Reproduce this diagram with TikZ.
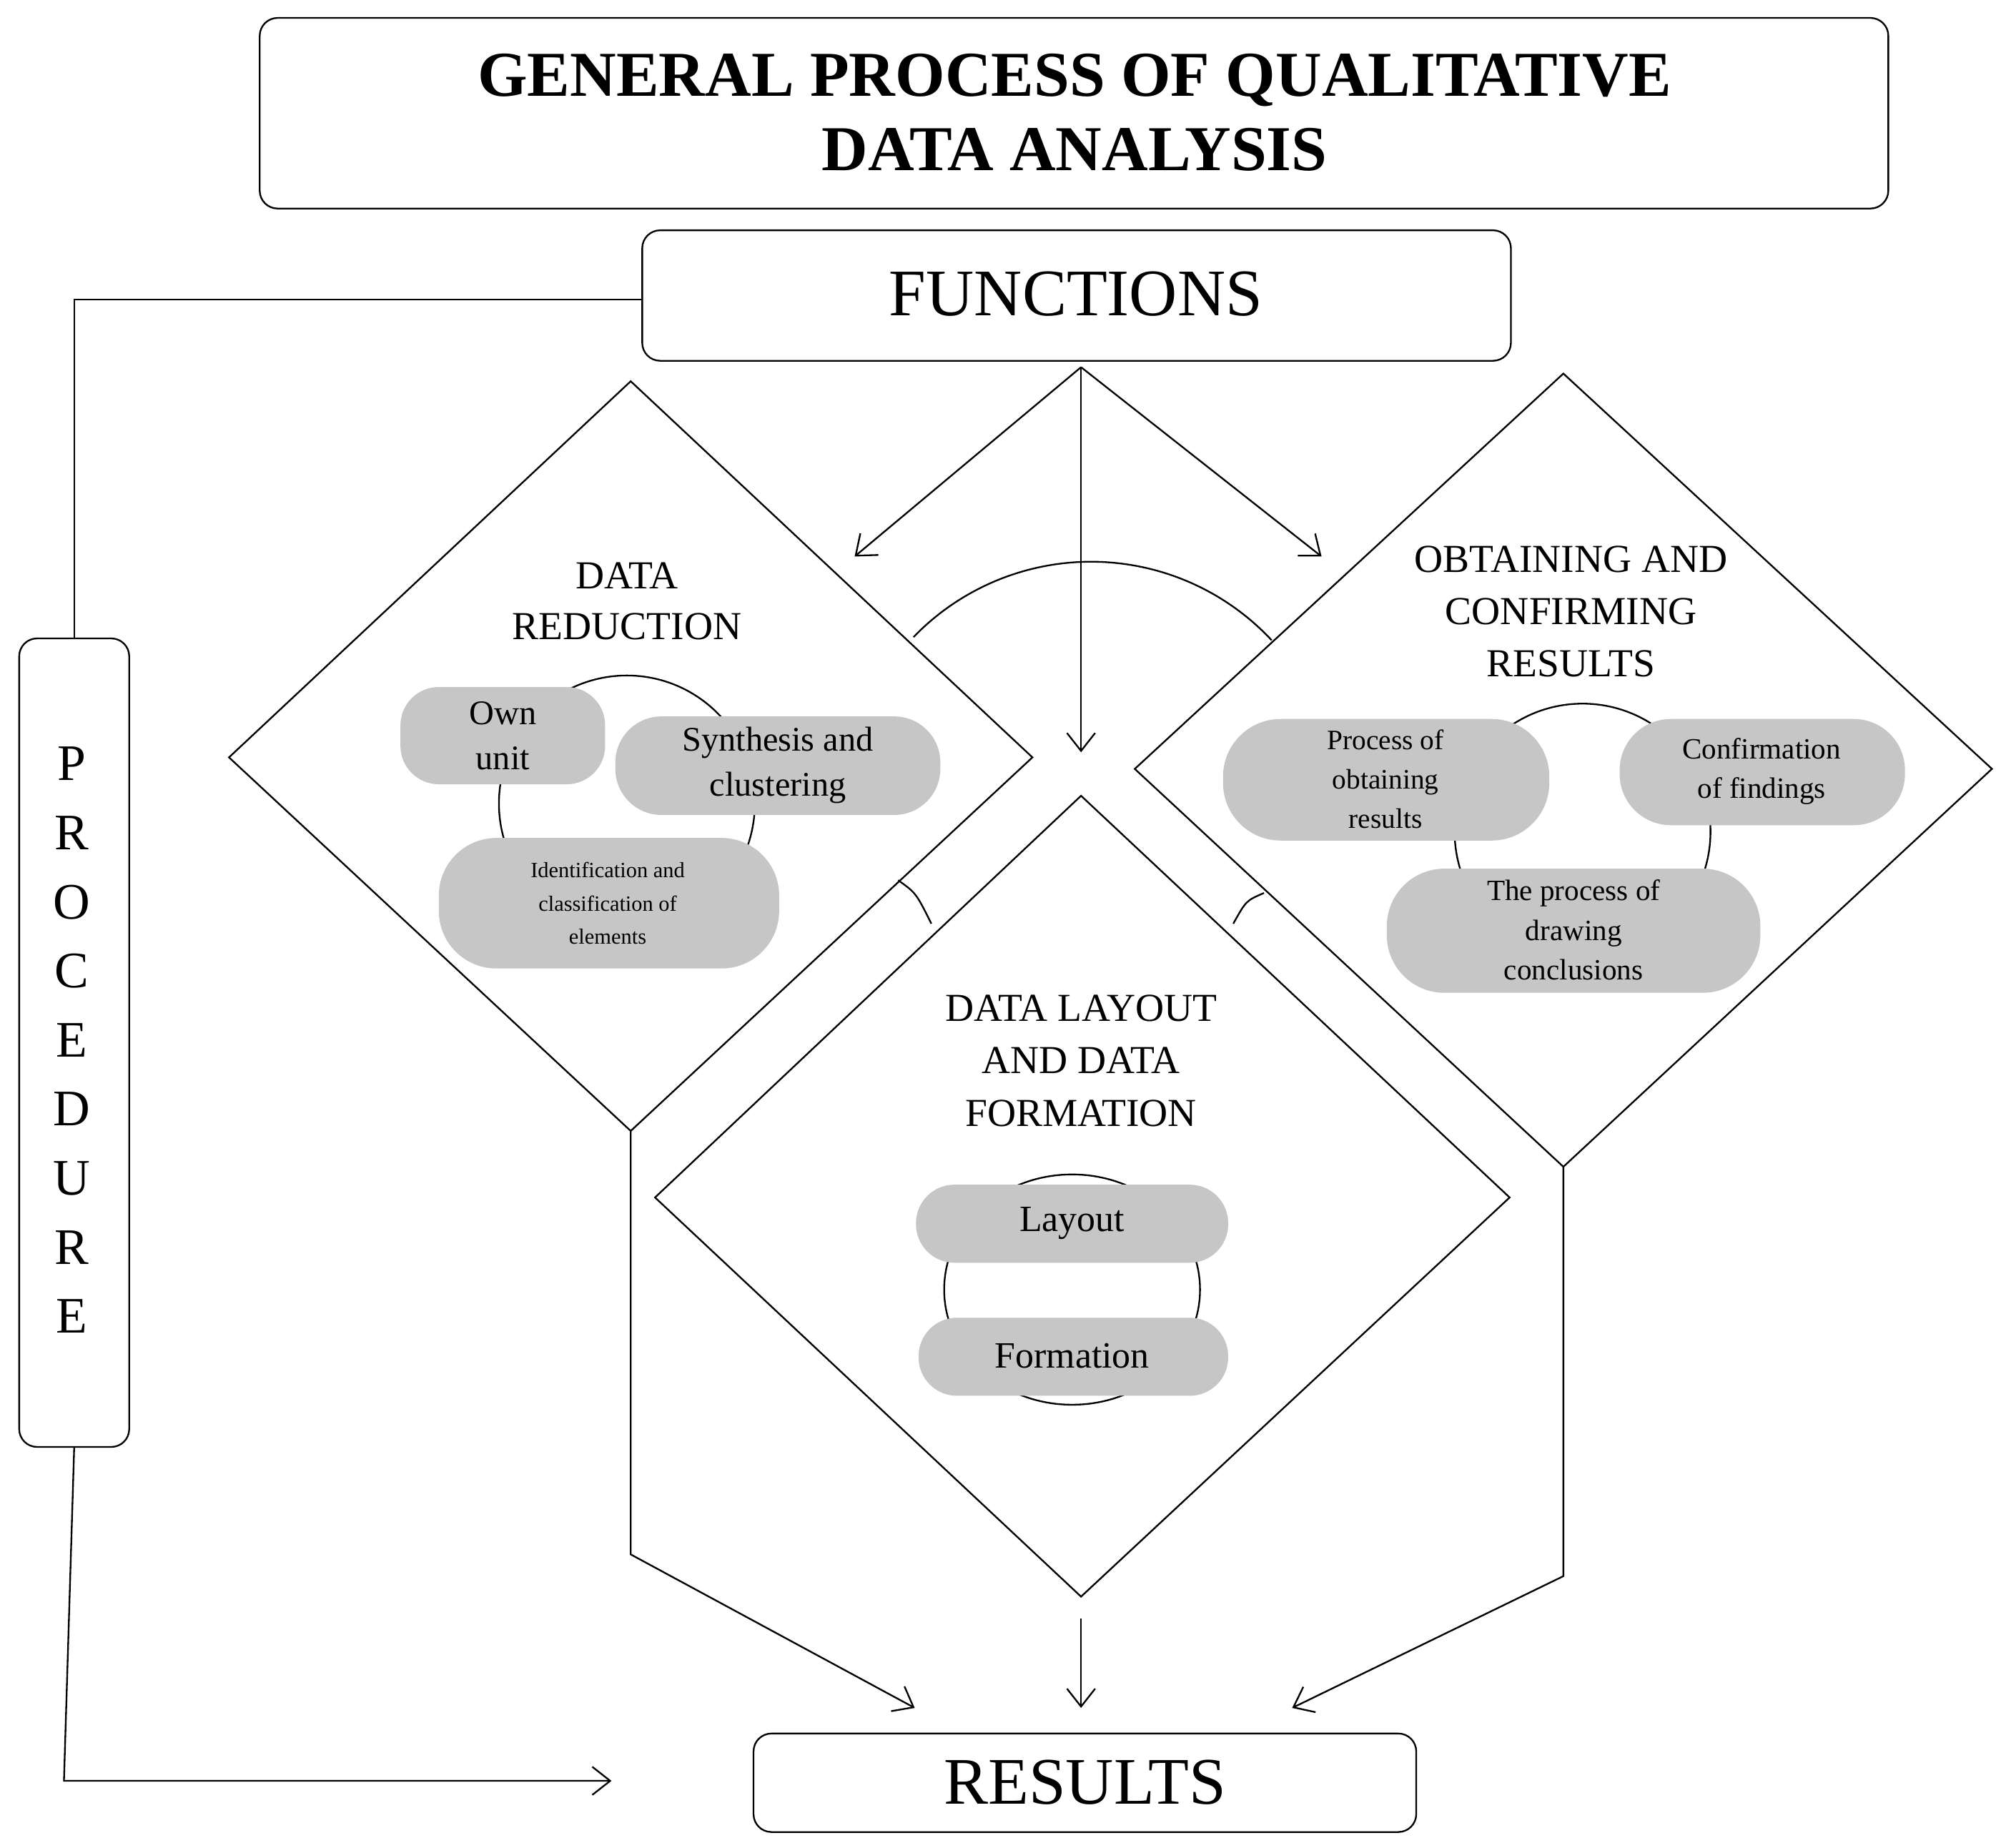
\documentclass[tikz,border=0pt]{standalone}
\usepackage{fontspec}
\setmainfont{Liberation Serif}
\usetikzlibrary{arrows.meta,shapes.geometric}
\begin{document}
\begin{tikzpicture}[x=1pt,y=-1pt,
  box/.style={draw,rounded corners=14pt,line width=1.3pt},
  dia/.style={draw,line width=1.3pt,fill=white},
  pill/.style={fill=gray!45,draw=none},
  con/.style={line width=1.3pt},
  arr/.style={con,-{Straight Barb[length=14pt,width=22pt]}}]
\useasboundingbox (0,0) rectangle (1568,1444);
% title
\draw[box] (203,14) rectangle (1476,163);
\node[font=\fontsize{50}{58}\selectfont\bfseries,align=center] (title) at (840,88) {GENERAL PROCESS OF QUALITATIVE\\DATA ANALYSIS};
\draw[box] (502,180) rectangle (1181,282);
\node[font=\fontsize{52}{58}\selectfont] (func) at (841,230) {FUNCTIONS};
\coordinate (fb) at (845,287);
% procedure
\draw[box] (15,499) rectangle (101,1131);
\foreach \l [count=\i] in {P,R,O,C,E,D,U,R,E}
  \node[font=\fontsize{40}{44}\selectfont] (p\i) at (56,543+54*\i) {\l};
\coordinate (f1) at (502,234);\coordinate (f2) at (58,234);\coordinate (f3) at (58,499);
\draw[con] (f1) -- (f2) -- (f3);
\coordinate (g1) at (58,1131);\coordinate (g2) at (50,1392);\coordinate (g3) at (478,1392);
\draw[arr] (g1) -- (g2) -- (g3);
% diamonds
\draw[dia] (493,298) -- (807,592) -- (493,884) -- (179,592) -- cycle;
\draw[dia] (1222,292) -- (1557,601) -- (1222,912) -- (887,601) -- cycle;
\draw[dia] (845,622) -- (1180,936) -- (845,1248) -- (512,936) -- cycle;
% arrows from functions
\coordinate (a1) at (668,435);\coordinate (a2) at (845,588);\coordinate (a3) at (1033,435);
\draw[arr] (fb) -- (a1); \draw[arr] (fb) -- (a2); \draw[arr] (fb) -- (a3);
\draw[con] (714,498) arc[start angle=136,end angle=43,radius=193pt];
\draw[con] (702,688) .. controls (716,698) .. (728,722);
\draw[con] (964,722) .. controls (974,704) .. (988,698);
% left content
\node[font=\fontsize{31}{40}\selectfont,align=center] (dr) at (490,470) {DATA\\REDUCTION};
\draw[con] (490,628) circle[radius=100];
\draw[pill,rounded corners=30pt] (313,537) rectangle (473,613);
\node[font=\fontsize{27}{35}\selectfont,align=center] (own) at (393,575) {Own\\unit};
\draw[pill,rounded corners=36pt] (481,560) rectangle (735,637);
\node[font=\fontsize{27}{35}\selectfont,align=center] (syn) at (608,598) {Synthesis and\\clustering};
\draw[pill,rounded corners=45pt] (343,655) rectangle (609,757);
\node[font=\fontsize{17}{26}\selectfont,align=center] (idc) at (475,706) {Identification and\\classification of\\elements};
% right content
\node[font=\fontsize{31}{41}\selectfont,align=center] (ocr) at (1228,478) {OBTAINING AND\\CONFIRMING\\RESULTS};
\draw[con] (1237,650) circle[radius=100];
\draw[pill,rounded corners=45pt] (956,562) rectangle (1211,657);
\node[font=\fontsize{22}{31}\selectfont,align=center] (por) at (1083,609) {Process of\\obtaining\\results};
\draw[pill,rounded corners=40pt] (1266,562) rectangle (1489,645);
\node[font=\fontsize{23}{31}\selectfont,align=center] (cof) at (1377,603) {Confirmation\\of findings};
\draw[pill,rounded corners=45pt] (1084,679) rectangle (1376,776);
\node[font=\fontsize{23}{31}\selectfont,align=center] (tpd) at (1230,727) {The process of\\drawing\\conclusions};
% bottom content
\node[font=\fontsize{31}{41}\selectfont,align=center] (dl) at (845,829) {DATA LAYOUT\\AND DATA\\FORMATION};
\draw[con] (838,1008) ellipse[x radius=100,y radius=90];
\draw[pill,rounded corners=30pt] (716,926) rectangle (960,987);
\node[font=\fontsize{29}{34}\selectfont] (lay) at (838,956) {Layout};
\draw[pill,rounded corners=30pt] (718,1030) rectangle (960,1091);
\node[font=\fontsize{29}{34}\selectfont] (form) at (838,1060) {Formation};
% results
\draw[box] (589,1355) rectangle (1107,1432);
\node[font=\fontsize{52}{58}\selectfont] (res) at (848,1393) {RESULTS};
\coordinate (l1) at (493,884);\coordinate (l2) at (493,1215);\coordinate (l3) at (715,1335);
\draw[arr] (l1) -- (l2) -- (l3);
\coordinate (m1) at (845,1265);\coordinate (m2) at (845,1335);
\draw[arr] (m1) -- (m2);
\coordinate (r1) at (1222,912);\coordinate (r2) at (1222,1232);\coordinate (r3) at (1010,1335);
\draw[arr] (r1) -- (r2) -- (r3);
\end{tikzpicture}
\end{document}
